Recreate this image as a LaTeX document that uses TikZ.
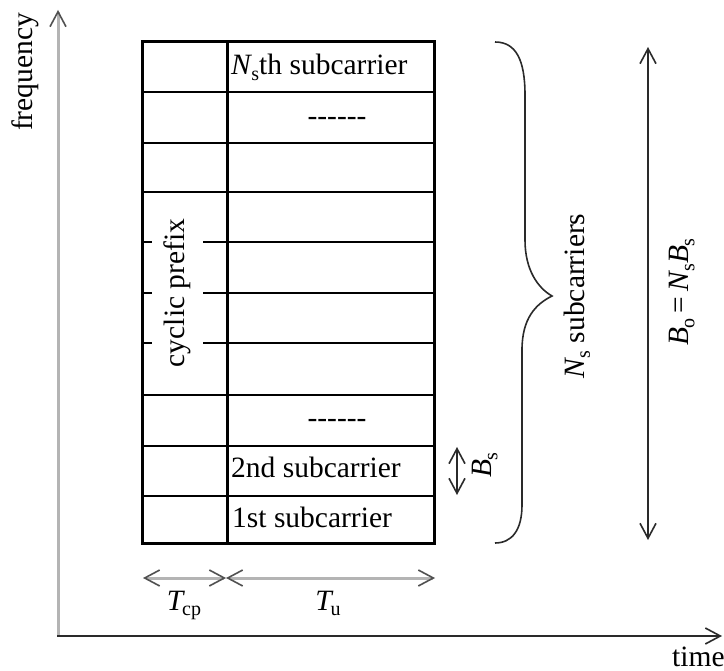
\documentclass[tikz,border=0pt]{standalone}
\usepackage{fontspec}
\setmainfont{Liberation Serif}
\usetikzlibrary{arrows.meta}
% italic symbol with an upright, lowered subscript (optional kern before it)
\newcommand{\vsub}[3][-0.8pt]{\textit{#2}\kern#1\raisebox{-5.5pt}{\fontsize{20}{20}\selectfont #3}}
\definecolor{axisgray}{HTML}{B4B4B4}
\definecolor{tipgray}{HTML}{505050}
\definecolor{darkline}{HTML}{2A2A2A}
\begin{document}
\begin{tikzpicture}[x=1pt,y=-1pt,
  txt/.style={inner sep=0pt, font=\fontsize{29.5}{32}\selectfont},
  vtxt/.style={txt, rotate=90, anchor=center},
  gridline/.style={line width=1.6pt, draw=black},
  frame/.style={line width=3pt, draw=black},
  graytips/.style={>={Straight Barb[length=15pt,width=16pt,line width=1.6pt,color=tipgray]}},
  darktips/.style={>={Straight Barb[length=15pt,width=16pt,line width=1.6pt,color=darkline]}},
  grayarrow/.style={graytips, draw=axisgray, line width=3pt},
  darkarrow/.style={darktips, draw=darkline, line width=2pt},
  bracestyle/.style={draw=darkline, line width=1.6pt},
]
\useasboundingbox (0,0) rectangle (724,671);

% ---- axes ----
\coordinate (origin) at (58,637);
\coordinate (ftop) at (58,10);
\coordinate (tstart) at (57,636);
\coordinate (tend) at (722,636);
\draw[grayarrow, ->] (origin) -- (ftop);
\draw[darktips, draw=darkline, line width=2.4pt, ->] (tstart) -- (tend);
\node[vtxt] (flabel) at (25,72) {frequency};
\node[txt, anchor=base west] (tlabel) at (672,666) {time};

% ---- subcarrier grid ----
\def\xl{142}\def\xm{227}\def\xr{434}\def\yt{42}\def\yb{543}
% rows with full-width separators
\foreach \y in {92,143,192,395,446,496}
  \draw[gridline] (\xl,\y) -- (\xr,\y);
% rows interrupted by the cyclic prefix label
\foreach \y in {242,293,343} {
  \draw[gridline] (\xl,\y) -- (152,\y);
  \draw[gridline] (203,\y) -- (\xr,\y);
}
\draw[frame] (\xm,\yt) -- (\xm,\yb);
\draw[frame] (\xl,\yt) rectangle (\xr,\yb);

\node[vtxt] (cp) at (177,293) {cyclic prefix};
\node[txt, anchor=base west] (nth) at (231,75) {\vsub{N}{s}th subcarrier};
\node[txt, anchor=base] (dotsA) at (337,126) {-{}-{}-{}-{}-{}-};
\node[txt, anchor=base] (dotsB) at (337,428) {-{}-{}-{}-{}-{}-};
\node[txt, anchor=base west] (second) at (231,478) {2nd subcarrier};
\node[txt, anchor=base west] (first) at (232,527) {1st subcarrier};

% ---- symbol durations ----
\coordinate (cpL) at (143,578);
\coordinate (cpR) at (226,578);
\coordinate (uR) at (435,578);
\draw[grayarrow, <->] (cpL) -- (cpR);
\draw[grayarrow, <->] (cpR) -- (uR);
\node[txt, anchor=base] (tcp) at (184,610) {\vsub[-3pt]{T}{cp}};
\node[txt, anchor=base] (tu) at (328,610) {\vsub[-3pt]{T}{u}};

% ---- subcarrier spacing ----
\coordinate (bsT) at (457,447);
\coordinate (bsB) at (457,495);
\draw[darktips, draw=darkline, line width=1.5pt, <->] (bsT) -- (bsB);
\node[vtxt] (bslabel) at (485,465) {\vsub{B}{s}};

% ---- brace over all subcarriers ----
\coordinate (brT) at (495,42);
\coordinate (brTip) at (552,296);
\coordinate (brB) at (495,543);
\draw[bracestyle] (brT) .. controls (516,42) and (525,60) .. (525,95)
  -- (525,240) .. controls (525,270) and (538,288) .. (brTip)
  .. controls (536,304) and (522,318) .. (522,350)
  -- (522,505) .. controls (522,530) and (512,543) .. (brB);
\node[vtxt] (nsub) at (577,296) {\vsub{N}{s} subcarriers};

% ---- total bandwidth ----
\coordinate (boT) at (648,47);
\coordinate (boB) at (648,540);
\draw[darkarrow, <->] (boT) -- (boB);
\node[vtxt] (bolabel) at (682,292) {\vsub{B}{o}\hspace{5pt}=\hspace{5pt}\vsub{N}{s}\vsub{B}{s}};
\end{tikzpicture}
\end{document}
